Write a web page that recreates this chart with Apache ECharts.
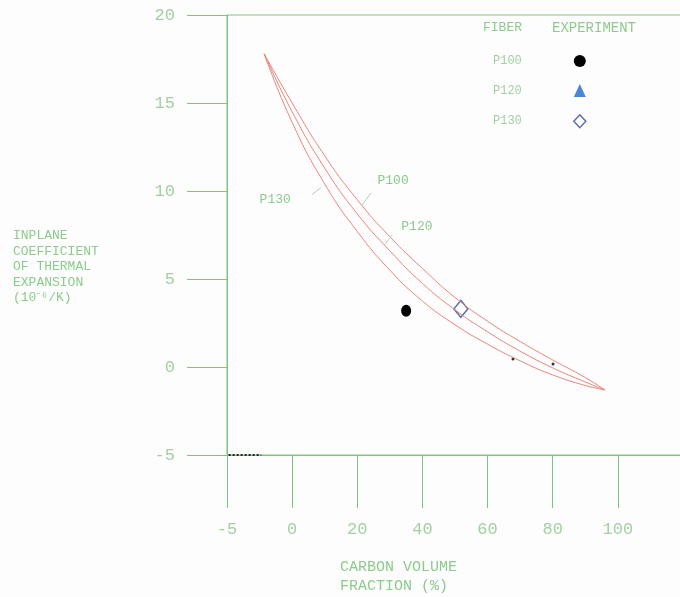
<!DOCTYPE html>
<html>
<head>
<meta charset="utf-8">
<script src="https://cdn.jsdelivr.net/npm/echarts@6/dist/echarts.min.js"></script>
<style>
  html, body { margin: 0; padding: 0; background: #fdfdfd; }
  #main { width: 680px; height: 597px; }
</style>
</head>
<body>
<div id="main"></div>
<script>
// tick labels as printed on the original plot (first tick reads -5)
var xTickValues = [-20, 0, 20, 40, 60, 80, 100];
var xTickLabels = ['-5', '0', '20', '40', '60', '80', '100'];

// model curves, CTE vs carbon volume fraction
var curveX = [-8.6, 0, 10, 20, 30, 40, 50, 60, 70, 80, 90, 96];
var p100Cte = [17.8, 15.0, 12.0, 9.5, 7.4, 5.6, 3.95, 2.6, 1.45, 0.4, -0.6, -1.3];
var p120Cte = [17.8, 14.5, 11.3, 8.7, 6.6, 4.75, 3.25, 2.0, 0.9, -0.05, -0.85, -1.3];
var p130Cte = [17.8, 13.9, 10.4, 7.7, 5.5, 3.75, 2.4, 1.3, 0.35, -0.45, -1.05, -1.3];

// experiment points
var p100Exp = [[35.0, 3.2]];
var p120Exp = [];
var p130Exp = [[51.8, 3.3]];

// curve labels: label position, leader start, leader end
var curveLabels = [
  { name: 'P100', at: [31.0, 10.6], from: [24.2, 9.9], to: [21.5, 9.2] },
  { name: 'P120', at: [38.3, 8.0], from: [30.7, 7.5], to: [28.2, 6.9] },
  { name: 'P130', at: [-5.2, 9.5], from: [6.1, 9.8], to: [8.9, 10.2] }
];
var curveMarks = [[67.8, 0.45], [80.1, 0.17]];

var green = '#7cc67c';
var textGreen = '#8ccb8c';
var paleGreen = '#a3cfa3';
var curveRed = '#e8877c';
var font = 'Liberation Mono';

function pairs(xs, ys) {
  return xs.map(function (x, i) { return [x, ys[i]]; });
}

function curveSeries(name, ys, idx) {
  var lab = curveLabels[idx];
  return {
    name: name + ' model',
    type: 'line',
    data: pairs(curveX, ys),
    smooth: true,
    showSymbol: false,
    lineStyle: { color: curveRed, width: 1 },
    silent: true,
    markLine: {
      silent: true,
      symbol: ['none', 'none'],
      label: { show: false },
      lineStyle: { color: '#b9cdb9', width: 1, type: 'solid' },
      data: [[{ coord: lab.from }, { coord: lab.to }]]
    },
    markPoint: {
      silent: true,
      symbol: 'circle',
      symbolSize: 1,
      itemStyle: { color: 'rgba(0,0,0,0)' },
      label: {
        show: true, position: 'inside', formatter: lab.name,
        color: textGreen, fontFamily: font, fontSize: 13
      },
      data: [{ coord: lab.at }]
    }
  };
}

var chart = echarts.init(document.getElementById('main'));
var option = {
  backgroundColor: '#fdfdfd',
  animation: false,
  grid: {
    left: 227, top: 15, width: 456, height: 440,
    outerBoundsMode: 'none',
    show: true, borderColor: green, borderWidth: 1
  },
  xAxis: {
    type: 'value',
    min: -20, max: 120, interval: 20,
    axisLine: { onZero: false, lineStyle: { color: green, width: 1 } },
    axisTick: { length: 53, lineStyle: { color: green, width: 1 } },
    splitLine: { show: false },
    axisLabel: {
      margin: 66, color: paleGreen, fontFamily: font, fontSize: 17,
      formatter: function (v) {
        var i = xTickValues.indexOf(v);
        return i < 0 ? '' : xTickLabels[i];
      }
    }
  },
  yAxis: {
    type: 'value',
    min: -5, max: 20, interval: 5,
    axisLine: { show: true, onZero: false, lineStyle: { color: green, width: 1 } },
    axisTick: { length: 40, lineStyle: { color: green, width: 1 } },
    splitLine: { show: false },
    axisLabel: { margin: 52, color: paleGreen, fontFamily: font, fontSize: 17 }
  },
  legend: {
    orient: 'vertical',
    left: 493, top: 55,
    padding: 0,
    align: 'right',
    itemWidth: 12, itemHeight: 13, itemGap: 17,
    selectedMode: false,
    formatter: '{n|{name}}',
    textStyle: {
      rich: { n: { padding: [0, 47, 0, 0], color: paleGreen, fontFamily: font, fontSize: 12 } }
    },
    data: [
      { name: 'P100', icon: 'circle', itemStyle: { color: '#000', opacity: 1 } },
      { name: 'P120', icon: 'triangle', itemStyle: { color: '#4a86d8', opacity: 1 } },
      { name: 'P130', icon: 'diamond', itemStyle: { color: '#fdfdfd', borderColor: '#5b6fae', borderWidth: 1.5, opacity: 1 } }
    ]
  },
  graphic: [
    { type: 'text', left: 483, top: 21, style: { text: 'FIBER', fill: textGreen, font: '13px "Liberation Mono"' } },
    { type: 'text', left: 552, top: 21, style: { text: 'EXPERIMENT', fill: textGreen, font: '14px "Liberation Mono"' } },
    { type: 'text', left: 13, top: 228, style: { text: 'INPLANE\nCOEFFICIENT\nOF THERMAL\nEXPANSION\n(10\u207B\u2076/K)', fill: textGreen, font: '13px "Liberation Mono"', lineHeight: 15.5 } },
    { type: 'text', left: 340, top: 558, style: { text: 'CARBON VOLUME\nFRACTION (%)', fill: textGreen, font: '15px "Liberation Mono"', lineHeight: 19 } }
  ],
  series: [
    curveSeries('P100', p100Cte, 0),
    curveSeries('P120', p120Cte, 1),
    curveSeries('P130', p130Cte, 2),
    {
      name: 'curve marks', type: 'scatter', data: curveMarks,
      symbolSize: 3, itemStyle: { color: '#333', opacity: 1 }, silent: true,
      markLine: {
        silent: true, symbol: ['none', 'none'], label: { show: false },
        lineStyle: { color: '#222', width: 2, type: 'dotted' },
        data: [[{ coord: [-19.5, -5] }, { coord: [-9.5, -5] }]]
      }
    },
    { name: 'P100', type: 'scatter', data: p100Exp, symbol: 'circle', symbolSize: [10, 12], itemStyle: { color: '#000', opacity: 1 } },
    { name: 'P120', type: 'scatter', data: p120Exp, symbol: 'triangle', symbolSize: 11, itemStyle: { color: '#4a86d8', opacity: 1 } },
    {
      name: 'P130', type: 'scatter', data: p130Exp, symbol: 'diamond', symbolSize: [14, 17],
      itemStyle: { color: '#fdfdfd', borderColor: '#5b6fae', borderWidth: 1.5, opacity: 1 }
    }
  ]
};
chart.setOption(option);
</script>
</body>
</html>
